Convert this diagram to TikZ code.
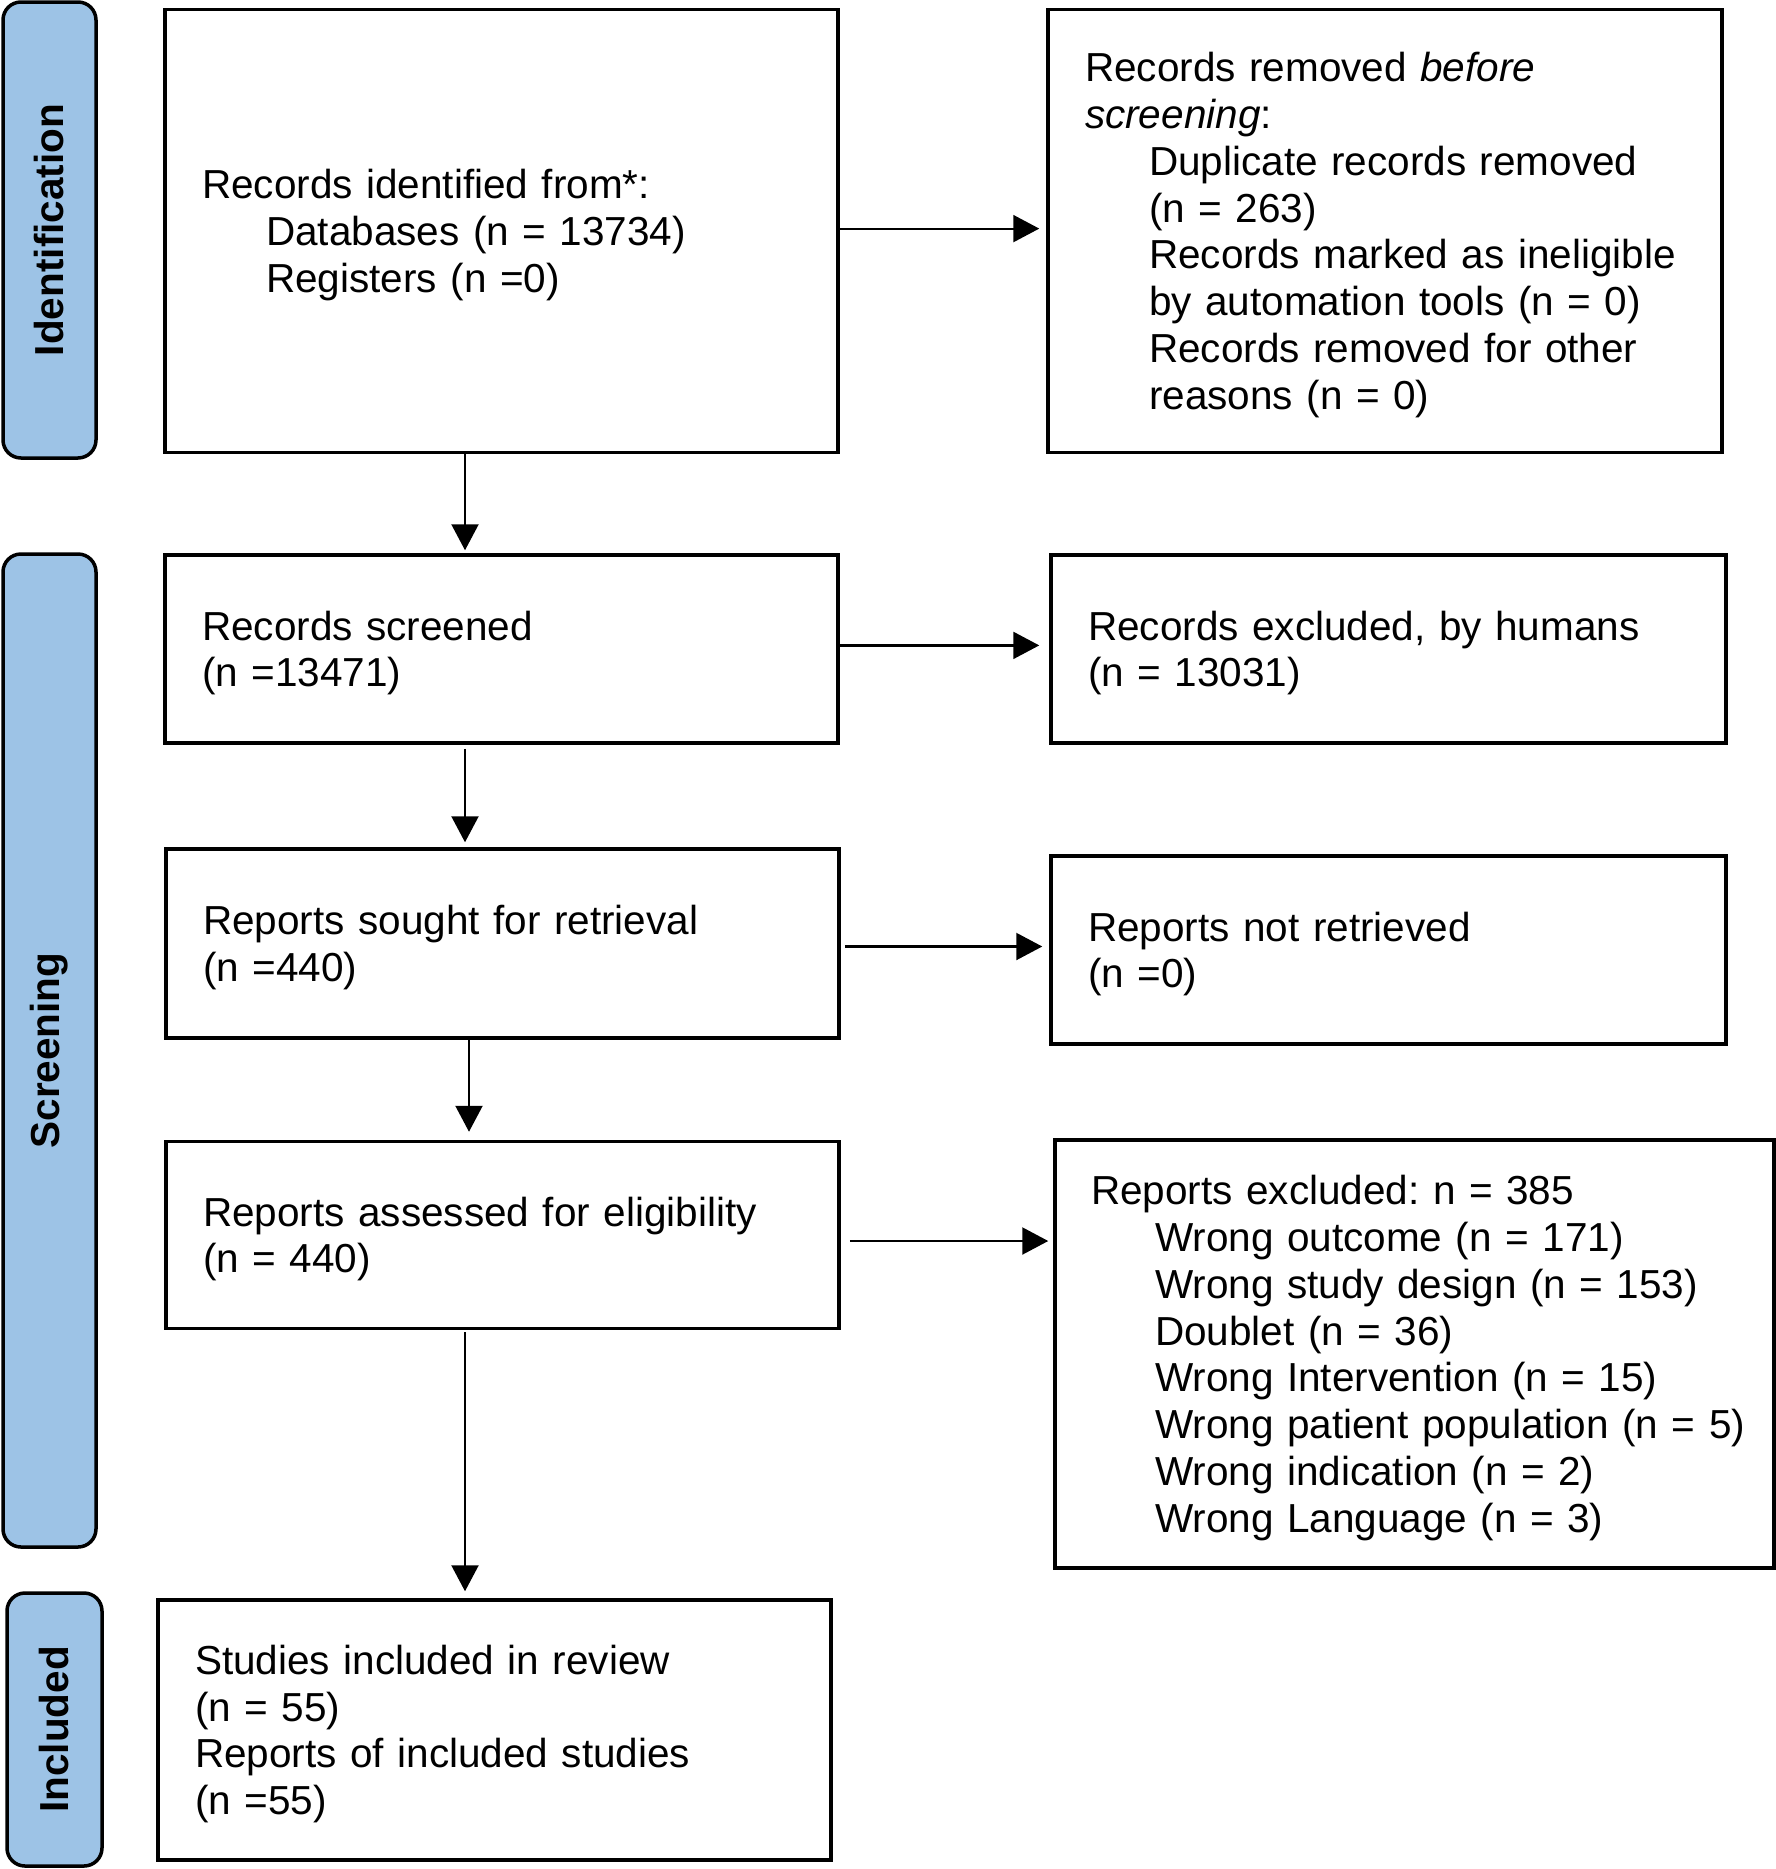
\documentclass[tikz,border=0pt]{standalone}
\usepackage{fontspec}
\setmainfont{Liberation Sans}
\usetikzlibrary{arrows.meta}
\definecolor{bandblue}{HTML}{9DC3E6}
\newcommand{\boxfont}{\fontsize{20.25pt}{23.4pt}\selectfont\frenchspacing}
\newcommand{\ind}{\hspace*{32pt}}
\begin{document}
\begin{tikzpicture}[x=0.5pt,y=-0.5pt,
  box/.style={draw, line width=1.75pt, inner xsep=18.5pt, inner ysep=0pt,
    align=left, font=\boxfont, anchor=center,
    execute at begin node={\rule{0pt}{18.6pt}}},
  band/.style={draw, line width=1.75pt, fill=bandblue, rounded corners=9pt,
    rotate=90, font=\boxfont\bfseries, inner sep=0pt, anchor=center},
  arr/.style={line width=1.1pt, -{Triangle[length=13pt,width=13.5pt]}}]
\fill[white] (0,0) rectangle (1776,1869);
\useasboundingbox (0,0) rectangle (1776,1869);

% phase bands
\node[band, minimum width=228pt, minimum height=46.5pt] (pid) at (49.5,230) {Identification};
\node[band, minimum width=496.5pt, minimum height=46.5pt] (pscr) at (49.5,1050.5) {Screening};
\node[band, minimum width=136.5pt, minimum height=47.5pt] (pinc) at (54.5,1729.5) {Included};

% boxes
\node[box, minimum width=336.5pt, minimum height=221.7pt, text width=299.5pt] (b1) at (501.5,231)
{Records identified from*:\\\ind Databases (n = 13734)\\\ind Registers (n =0)};
\node[box, minimum width=337pt, minimum height=221.7pt, text width=300pt] (b2) at (1385,231)
{Records removed \textit{before}\\\textit{screening}:\\\ind Duplicate records removed\\\ind (n = 263)\\\ind Records marked as ineligible\\\ind by automation tools (n = 0)\\\ind Records removed for other\\\ind reasons (n = 0)};
\node[box, minimum width=336.5pt, minimum height=94pt, text width=299.5pt] (b3) at (501.5,649)
{Records screened\\(n =13471)};
\node[box, minimum width=337.5pt, minimum height=94pt, text width=300.5pt] (b4) at (1388.5,649)
{Records excluded, by humans\\(n = 13031)};
\node[box, minimum width=336.5pt, minimum height=94.5pt, text width=299.5pt] (b5) at (502.5,943.5)
{Reports sought for retrieval\\(n =440)};
\node[box, minimum width=337.5pt, minimum height=94pt, text width=300.5pt] (b6) at (1388.5,950)
{Reports not retrieved\\(n =0)};
\node[box, minimum width=336.5pt, minimum height=93.5pt, text width=299.5pt] (b7) at (502.5,1235)
{Reports assessed for eligibility\\(n = 440)};
\node[box, minimum width=359.5pt, minimum height=214pt, text width=323.5pt, inner xsep=18pt] (b8) at (1414.5,1354)
{Reports excluded: n = 385\\\ind Wrong outcome (n = 171)\\\ind Wrong study design (n = 153)\\\ind Doublet (n = 36)\\\ind Wrong Intervention (n = 15)\\\ind\mbox{Wrong patient population (n = 5)}\\\ind Wrong indication (n = 2)\\\ind Wrong Language (n = 3)};
\node[box, minimum width=336.5pt, minimum height=130pt, text width=299.5pt] (b9) at (494.5,1730)
{Studies included in review\\(n = 55)\\Reports of included studies\\(n =55)};

% connector columns
\coordinate (cx) at (465,0);
\coordinate (cy) at (469,0);

% horizontal arrows
\draw[arr, shorten >=3.5pt] ([yshift=1.2pt]b1.east) -- ([yshift=1.2pt]b1.east -| b2.west);
\draw[arr, shorten >=5pt] ([yshift=1.8pt]b3.east) -- ([yshift=1.8pt]b3.east -| b4.west);
\draw[arr, shorten <=2pt, shorten >=3.5pt] ([yshift=-1.5pt]b5.east) -- ([yshift=-1.5pt]b5.east -| b6.west);
\draw[arr, shorten <=4.5pt, shorten >=2.5pt] ([yshift=-3pt]b7.east) -- ([yshift=-3pt]b7.east -| b8.west);

% vertical arrows
\draw[arr, shorten >=1.5pt] (b1.south -| cx) -- (b3.north -| cx);
\draw[arr, shorten <=2pt, shorten >=2.5pt] (b3.south -| cx) -- (b5.north -| cx);
\draw[arr, shorten >=4pt] (b5.south -| cy) -- (b7.north -| cy);
\draw[arr, shorten <=1pt, shorten >=3.5pt] (b7.south -| cx) -- (b9.north -| cx);
\end{tikzpicture}
\end{document}
